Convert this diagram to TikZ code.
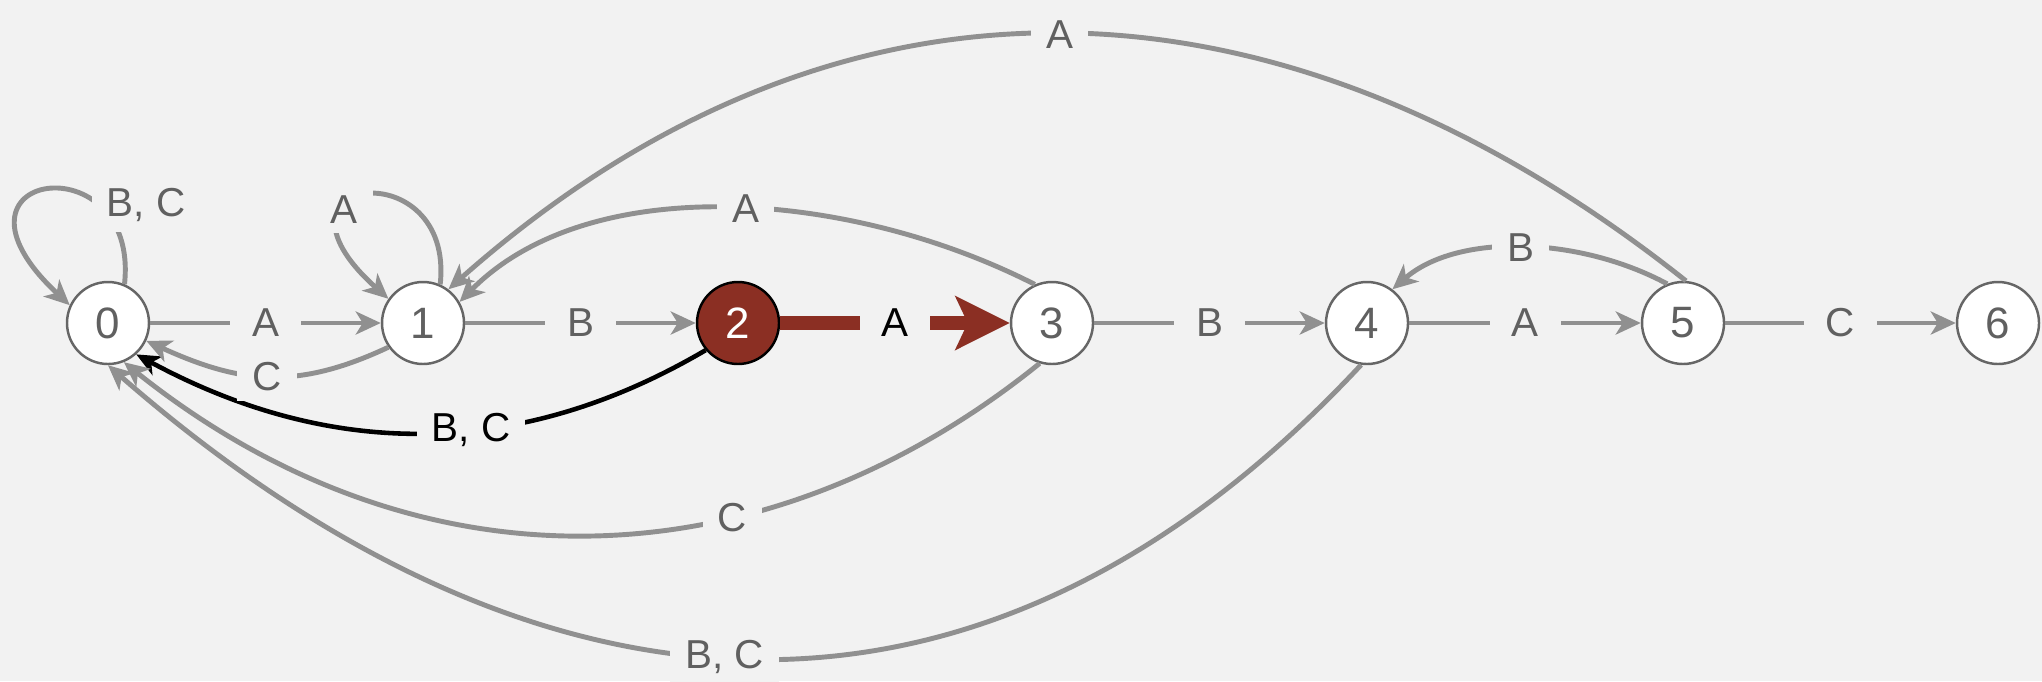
\documentclass[tikz,border=0pt]{standalone}
\usepackage{fontspec}
\setmainfont{Liberation Sans}
\usetikzlibrary{arrows.meta}
\definecolor{bg}{HTML}{F2F2F2}
\definecolor{edgegray}{HTML}{909090}
\definecolor{lblgray}{HTML}{606060}
\definecolor{nodeline}{HTML}{666666}
\definecolor{rust}{HTML}{8B2F23}
\tikzset{
  state/.style={circle, draw=nodeline, fill=white, line width=0.7pt, minimum size=0.82cm, inner sep=0pt, text=lblgray, font=\fontsize{12.5}{15}\selectfont},
  hotstate/.style={state, draw=black, fill=rust, text=white},
  edge/.style={draw=edgegray, line width=1.4pt, -{Stealth[length=2.5mm,width=2.3mm,inset=0.7mm]}},
  blkedge/.style={edge, draw=black, line width=1.3pt, -{Stealth[length=2.4mm,width=2.1mm,inset=0.7mm]}},
  hotedge/.style={draw=rust, line width=0.14cm, -{Stealth[length=5.4mm,width=5.3mm,inset=1.2mm]}},
  lbl/.style={fill=bg, text=lblgray, inner xsep=0.15cm, inner ysep=0.1cm, font=\fontsize{11.5}{14}\selectfont},
  lblwide/.style={lbl, inner xsep=0.22cm}
}
\begin{document}
\begin{tikzpicture}
\path[fill=bg, use as bounding box] (0,0) rectangle (20.42,-6.81);
% states
\node[state] (n0) at (1.08,-3.23) {0};
\node[state] (n1) at (4.23,-3.23) {1};
\node[hotstate] (n2) at (7.38,-3.23) {2};
\node[state] (n3) at (10.52,-3.23) {3};
\node[state] (n4) at (13.67,-3.23) {4};
\node[state] (n5) at (16.83,-3.23) {5};
\node[state] (n6) at (19.98,-3.23) {6};
% forward edges
\draw[edge] (n0) -- node[lblwide] {A} (n1);
\draw[edge] (n1) -- node[lblwide] {B} (n2);
\draw[hotedge] (n2) -- node[lblwide, text=black] {A} (n3);
\draw[edge] (n3) -- node[lblwide] {B} (n4);
\draw[edge] (n4) -- node[lblwide] {A} (n5);
\draw[edge] (n5) -- node[lblwide] {C} (n6);
% self loops
\draw[edge] (n0.67) .. controls (1.40,-1.40) and (-0.75,-1.70) .. (n0.155);
\node[lbl] (l0) at (1.46,-2.05) {B, C};
\draw[edge] (n1.66) .. controls (4.55,-1.50) and (2.50,-1.75) .. node[lbl, pos=0.66] {A} (n1.145);
% back edges, upper side
\draw[edge] (n3.114) .. controls (8.50,-1.90) and (5.90,-1.70) .. node[lbl, pos=0.47] {A} (n1.30);
\draw[edge] (n5.86) .. controls (12.77,0.44) and (8.37,0.55) .. node[lbl] {A} (n1.53);
\draw[edge] (n5.112) .. controls (15.78,-2.36) and (14.57,-2.33) .. node[lbl] {B} (n4.53);
% back edges, lower side
\draw[blkedge] (n2.220) .. controls (5.29,-4.54) and (3.41,-4.65) .. node[lbl, pos=0.43, text=black] {B, C} (n0.-48);
\draw[edge] (n1.215) .. controls (2.95,-3.91) and (2.39,-3.83) .. node[lbl] {C} (n0.-25);
\draw[edge] (n3.253) .. controls (7.68,-5.83) and (4.23,-6.01) .. node[lbl, pos=0.35] {C} (n0.-68);
\draw[edge] (n4.262) .. controls (9.78,-7.76) and (5.33,-7.36) .. node[lbl, pos=0.52] {B, C} (n0.-90);
\end{tikzpicture}
\end{document}
